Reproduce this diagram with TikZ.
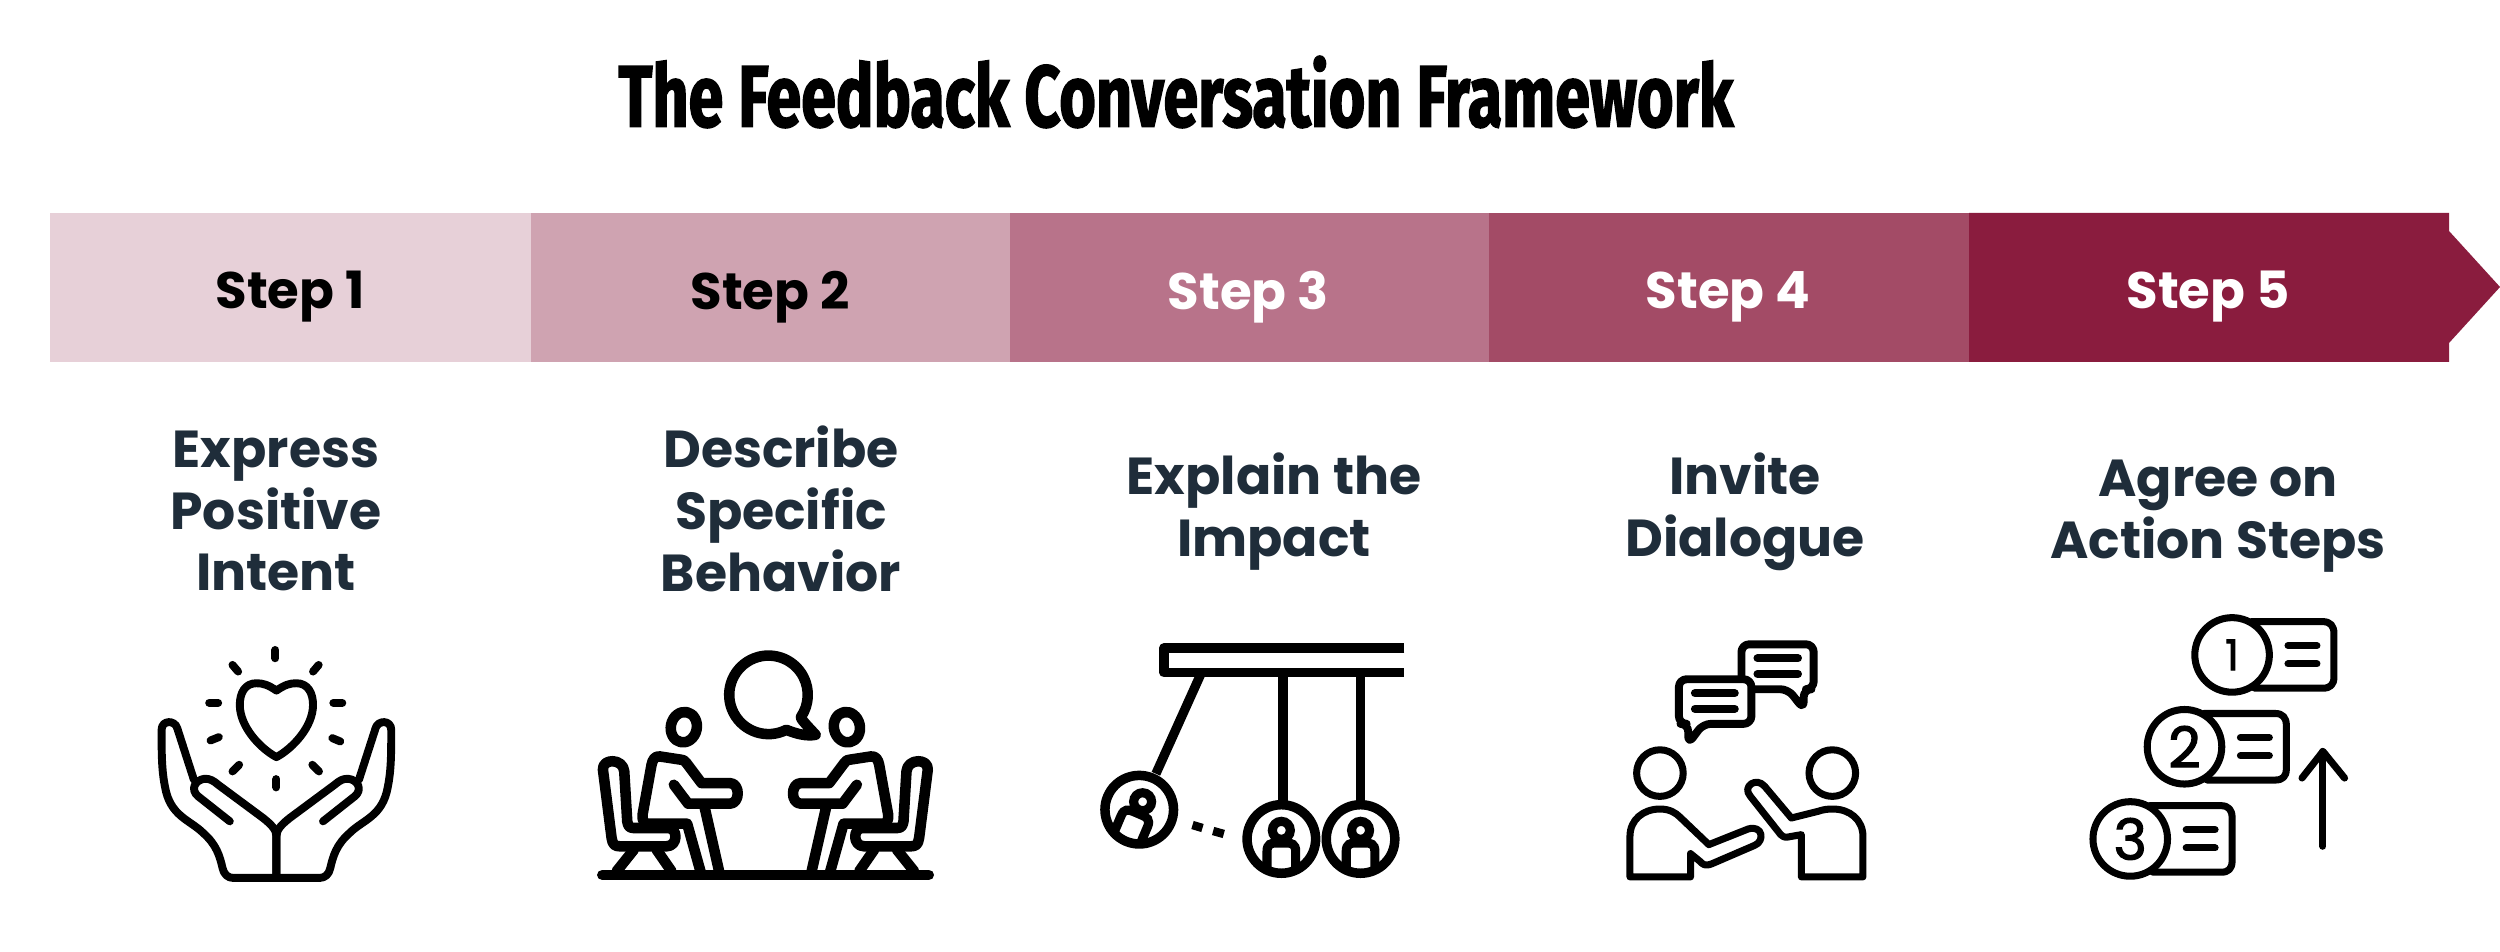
\documentclass[tikz,border=0pt]{standalone}
\usepackage{fontspec}
\usepackage{xcolor}
\setmainfont{Liberation Sans}
\newfontfamily\titlefont[FakeStretch=0.72,FakeBold=1.6]{Fira Sans}
\newfontfamily\headfont{Poppins}
\newfontfamily\digitfont[FakeBold=2.2]{Poppins}
\definecolor{stepone}{RGB}{231,208,216}
\definecolor{steptwo}{RGB}{207,163,177}
\definecolor{stepthree}{RGB}{184,115,138}
\definecolor{stepfour}{RGB}{163,75,102}
\definecolor{stepfive}{RGB}{138,28,62}
\definecolor{slateink}{RGB}{31,45,58}
\tikzset{
  zoomed/.style={x=0.00333cm,y=-0.00333cm},
  iconline/.style={line width=2.25pt,line cap=round,line join=round},
  heavyline/.style={line width=3pt,line cap=round,line join=round},
  steplabel/.style={font=\fontsize{14.6}{17}\selectfont\headfont\bfseries},
  headlabel/.style={text=slateink,align=center,font=\fontsize{14.8}{17.6}\selectfont\headfont\bfseries}
}

\begin{document}
\begin{tikzpicture}[x=0.01cm,y=-0.01cm]

  \useasboundingbox (0,0) rectangle (2500,952);
  \fill[white] (0,0) rectangle (2500,952);

  % ── TITLE ──────────────────────────────────────────────────────────────────
  \node[font=\fontsize{24.8}{29}\selectfont\titlefont\bfseries] (title)
    at (1176,92) {The Feedback Conversation Framework};

  % ── STEP BAR ───────────────────────────────────────────────────────────────
  \fill[stepone]   (50,213)   rectangle (531,362);
  \fill[steptwo]   (531,213)  rectangle (1010,362);
  \fill[stepthree] (1010,213) rectangle (1489,362);
  \fill[stepfour]  (1489,213) rectangle (1969,362);
  \fill[stepfive]  (1969,213) -- (2449,213) -- (2449,231) -- (2500,287)
    -- (2449,343) -- (2449,362) -- (1969,362) -- cycle;

  \node[steplabel,text=black] (stepa) at (290,297)  {Step 1};
  \node[steplabel,text=black] (stepb) at (770,297)  {Step 2};
  \node[steplabel,text=white] (stepc) at (1248,297) {Step 3};
  \node[steplabel,text=white] (stepd) at (1728,297) {Step 4};
  \node[steplabel,text=white] (stepe) at (2208,297) {Step 5};

  % ── HEADINGS ───────────────────────────────────────────────────────────────
  \node[headlabel] (intent)   at (276,511)  {Express\\Positive\\Intent};
  \node[headlabel] (behavior) at (781,509)  {Describe\\Specific\\Behavior};
  \node[headlabel] (impact)   at (1274,512) {Explain the\\Impact};
  \node[headlabel] (dialogue) at (1745,512) {Invite\\Dialogue};
  \node[headlabel] (action)   at (2218,516) {Agree on\\Action Steps};

  % ── HANDS AND HEART ────────────────────────────────────────────────────────
  \begin{scope}[shift={(120,620)},zoomed]
    \draw[iconline] (467,90) -- (467,115);
    \draw[iconline] (338,135) -- (355,155);
    \draw[iconline] (597,135) -- (580,155);
    \draw[iconline] (268,249) -- (295,249);
    \draw[iconline] (641,249) -- (668,249);
    \draw[iconline] (272,362) -- (297,352);
    \draw[iconline] (662,365) -- (638,355);
    \draw[iconline] (338,455) -- (358,435);
    \draw[iconline] (598,455) -- (578,435);
    \draw[iconline] (470,478) -- (470,503);
    \draw[iconline] (470,212) .. controls (445,195) and (430,190) .. (410,190)
      .. controls (375,190) and (360,220) .. (360,255)
      .. controls (360,320) and (420,385) .. (470,412)
      .. controls (520,385) and (580,320) .. (580,255)
      .. controls (580,220) and (565,190) .. (530,190)
      .. controls (510,190) and (495,195) .. (470,212) -- cycle;
    \foreach \flip/\off in {1/0,-1/940}{
      \begin{scope}[shift={(\off,0)},xscale=\flip]
        \draw[iconline] (222,480) -- (172,325)
          .. controls (165,300) and (125,300) .. (125,330)
          .. controls (125,400) and (125,450) .. (135,500)
          .. controls (150,590) and (210,600) .. (250,640)
          .. controls (290,675) and (300,710) .. (308,745)
          .. controls (312,765) and (325,775) .. (340,775) -- (470,775);
        \draw[iconline] (330,605) -- (235,530)
          .. controls (210,510) and (225,480) .. (255,477)
          .. controls (270,477) and (280,482) .. (295,495)
          -- (430,595) .. controls (455,615) and (470,630) .. (470,650) -- (470,775);
      \end{scope}
    }
  \end{scope}

  % ── TWO SEATED PEOPLE ──────────────────────────────────────────────────────
  \begin{scope}[shift={(570,620)},zoomed]
    \draw[heavyline] (97,766) -- (1078,766);
    \draw[heavyline] (650,330) arc[start angle=63,end angle=394,radius=118]
      .. controls (690,295) and (715,320) .. (738,345)
      .. controls (710,350) and (680,342) .. (650,330) -- cycle;
    \foreach \flip/\off in {1/0,-1/1174}{
      \begin{scope}[shift={(\off,0)},xscale=\flip]
        \draw[heavyline,rotate around={-12:(342,322)}] (342,322) circle[x radius=39,y radius=46];
        % chair
        \draw[heavyline] (99,450) -- (125,655) .. controls (128,675) and (135,680) .. (150,680)
          -- (290,680) .. controls (325,680) and (325,625) .. (295,625)
          -- (190,625) .. controls (176,625) and (174,615) .. (172,605) -- (163,455)
          .. controls (160,415) and (96,415) .. (99,450) -- cycle;
        \draw[heavyline] (192,690) -- (140,755);
        \draw[heavyline] (260,690) -- (305,755);
        % body and arm
        \draw[heavyline] (312,495) -- (355,552) -- (480,552)
          .. controls (512,552) and (512,490) .. (480,490) -- (395,490) -- (350,430)
          .. controls (345,422) and (340,420) .. (335,420) -- (270,410)
          .. controls (255,408) and (248,420) .. (245,435) -- (218,585)
          .. controls (216,605) and (225,612) .. (235,612) -- (352,612) -- (392,755);
        \draw[heavyline] (405,565) -- (448,755);
      \end{scope}
    }
  \end{scope}

  % ── PENDULUM ───────────────────────────────────────────────────────────────
  \begin{scope}[shift={(1080,620)},zoomed]
    \draw[line width=2.65pt,line join=round] (975,84) -- (252,84) -- (252,158) -- (975,158);
    \draw[line width=2.65pt] (610,158) -- (610,545);
    \draw[line width=2.65pt] (843,158) -- (843,545);
    \draw[line width=2.65pt] (365,158) -- (228,462);
    \foreach \bobx/\boby/\bobrot in {605/658/0,843/658/0,178/570/-23}{
      \begin{scope}[shift={(\bobx,\boby)},rotate=\bobrot]
        \draw[line width=2.7pt] (0,0) circle[radius=103];
        \draw[line width=2.6pt] (0,-26) circle[radius=27];
        \draw[line width=2.6pt] (-43,90) -- (-43,37) .. controls (-43,15) and (-30,12) .. (-15,12)
          -- (15,12) .. controls (30,12) and (43,15) .. (43,37) -- (43,90);
      \end{scope}
    }
    \draw[line width=2.4pt] (338,616) -- (368,625);
    \draw[line width=2.4pt] (400,634) -- (432,643);
  \end{scope}

  % ── TWO PEOPLE TALKING ─────────────────────────────────────────────────────
  \begin{scope}[shift={(1600,620)},zoomed]
    \draw[iconline,rounded corners=2.2pt] (425,180) -- (425,73) -- (642,73) -- (642,208)
      -- (612,208) -- (612,268) -- (565,208) -- (440,208);
    \draw[iconline] (473,115) -- (595,115);
    \draw[iconline] (473,162) -- (595,162);
    \draw[iconline,fill=white,rounded corners=2.2pt] (237,178) -- (455,178) -- (455,312)
      -- (310,312) -- (265,372) -- (265,312) -- (237,312) -- cycle;
    \draw[iconline] (285,220) -- (405,220);
    \draw[iconline] (285,267) -- (405,267);
    \draw[line width=2pt] (180,460) circle[radius=70];
    \draw[line width=2pt] (698,460) circle[radius=70];
    \draw[iconline,line width=2pt] (272,772) -- (90,772) -- (90,650)
      .. controls (90,600) and (130,568) .. (180,568)
      .. controls (210,568) and (228,580) .. (240,592) -- (327,675) -- (445,628)
      .. controls (490,615) and (495,665) .. (465,677) -- (335,733)
      .. controls (315,740) and (310,735) .. (300,725) -- (272,702) -- cycle;
    \draw[iconline,line width=2pt] (605,772) -- (790,772) -- (790,650)
      .. controls (790,600) and (750,568) .. (700,568)
      .. controls (680,568) and (670,570) .. (655,575) -- (575,595) -- (495,500)
      .. controls (470,470) and (425,500) .. (452,530) -- (535,635)
      .. controls (545,650) and (555,655) .. (565,652) -- (605,645) -- cycle;
  \end{scope}

  % ── NUMBERED LIST AND ARROW ────────────────────────────────────────────────
  \begin{scope}[shift={(2070,600)},zoomed]
    \foreach \dx/\dy/\n/\digitsize in {0/0/1/12,-143/276/2/16,-306/553/3/16}{
      \begin{scope}[shift={(\dx,\dy)}]
        \draw[iconline,line width=2pt] (545,65) -- (760,65)
          .. controls (782,65) and (793,78) .. (793,100) -- (793,232)
          .. controls (793,254) and (782,265) .. (760,265) -- (555,265);
        \draw[iconline,line width=2pt] (655,137) -- (742,137);
        \draw[iconline,line width=2pt] (655,192) -- (742,192);
        \draw[line width=2pt] (487,165) circle[radius=112];
        \node[font=\fontsize{\digitsize}{18}\selectfont\digitfont] (num\n) at (487,165) {\n};
      \end{scope}
    }
    \draw[iconline,line width=2pt] (760,740) -- (760,455);
    \draw[iconline,line width=2pt] (697,535) -- (760,455) -- (825,535);
  \end{scope}

\end{tikzpicture}
\end{document}
